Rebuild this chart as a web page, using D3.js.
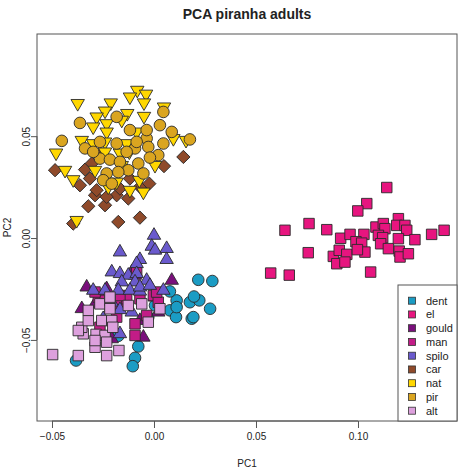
<!DOCTYPE html>
<html>
<head>
<meta charset="utf-8">
<script src="https://cdn.jsdelivr.net/npm/d3@7"></script>
<style>
  html, body { margin: 0; padding: 0; background: #fff; }
  svg { display: block; }
  text { font-family: "Liberation Sans", Arial, sans-serif; fill: #222; }
</style>
</head>
<body>
<script>
// ---------------- data (PC1, PC2) ----------------
const species = ["dent", "el", "gould", "man", "spilo", "car", "nat", "pir", "alt"];
const colors  = ["#1b9cc4", "#e7157f", "#7a0f7c", "#c21c87", "#6a5acd", "#8f4a2a", "#ffd700", "#daa520", "#dda0dd"];
const shapes  = ["circle", "square", "triUp", "square", "triUp", "diamond", "triDown", "circle", "square"];

const dent = [[0.0217,-0.0205],[0.0286,-0.0211],[0.0111,-0.0306],[0.0176,-0.0315],[0.0222,-0.0306],[0.0196,-0.0287],
  [0.0275,-0.0347],[0.0078,-0.0355],[0.0108,-0.0388],[0.0185,-0.0396],[0.0193,-0.0388],[-0.0077,-0.0532],[-0.0093,-0.0588],
  [-0.0104,-0.0629],[-0.0382,-0.0601],[0.0005,-0.0331],[-0.0028,-0.0388],[-0.0175,-0.0480],[0.0111,-0.0339],[0.0078,-0.0262]];
const el = [[0.1141,0.0248],[0.1043,0.0169],[0.0999,0.0133],[0.0642,0.0038],[0.0760,0.0071],[0.0847,0.0041],[0.0756,-0.0072],
  [0.0572,-0.0172],[0.0663,-0.0182],[0.1062,-0.0167],[0.0915,-0.0001],[0.0961,0.0018],[0.1029,0.0018],[0.0990,-0.0018],
  [0.1018,-0.0025],[0.1034,-0.0069],[0.0879,-0.0090],[0.0908,-0.0060],[0.0945,-0.0080],[0.0896,-0.0126],[0.0936,-0.0118],
  [0.0997,-0.0057],[0.1088,0.0054],[0.1124,0.0071],[0.1132,0.0046],[0.1100,0.0013],[0.1121,0.0002],[0.1111,-0.0028],
  [0.1149,-0.0052],[0.1198,0.0095],[0.1190,0.0062],[0.1230,0.0062],[0.1239,0.0038],[0.1198,-0.0003],[0.1202,-0.0064],
  [0.1206,-0.0093],[0.1247,-0.0077],[0.1279,-0.0008],[0.1361,0.0018],[0.1422,0.0038]];
const gould = [[0.0087,-0.0208],[-0.0052,-0.0487],[-0.0207,-0.0495],[-0.0354,-0.0347],[-0.0109,-0.0167],[0.0005,-0.0290],
  [-0.0232,-0.0249],[-0.0289,-0.0323],[-0.0134,-0.0323],[-0.0330,-0.0241],[-0.0069,-0.0405],[0.0021,-0.0364],[-0.0093,-0.0183]];
const man = [[-0.0085,-0.0167],[-0.0273,-0.0290],[-0.0216,-0.0339],[-0.0167,-0.0323],[-0.0134,-0.0298],[-0.0069,-0.0298],
  [-0.0003,-0.0282],[0.0021,-0.0315],[-0.0093,-0.0421],[-0.0093,-0.0478],[-0.0036,-0.0380],[-0.0240,-0.0306],[-0.0289,-0.0265],
  [-0.0167,-0.0282],[-0.0183,-0.0388],[-0.0265,-0.0438],[0.0013,-0.0265]];
const spilo = [[0.0000,0.0013],[-0.0011,-0.0041],[0.0005,-0.0060],[0.0062,-0.0052],[0.0062,-0.0106],[-0.0167,-0.0069],
  [-0.0069,-0.0106],[-0.0085,-0.0126],[-0.0207,-0.0167],[-0.0167,-0.0175],[-0.0126,-0.0183],[-0.0085,-0.0175],[-0.0158,-0.0216],
  [-0.0093,-0.0216],[-0.0036,-0.0208],[-0.0298,-0.0257],[-0.0240,-0.0257],[-0.0175,-0.0257],[-0.0118,-0.0257],[-0.0069,-0.0261],
  [0.0046,-0.0257],[-0.0207,-0.0315],[-0.0167,-0.0352],[-0.0109,-0.0364],[-0.0249,-0.0396],[-0.0167,-0.0470],[-0.0069,-0.0241],
  [-0.0020,-0.0233]];
const car = [[0.0144,0.0398],[0.0049,0.0353],[-0.0485,0.0333],[-0.0338,0.0336],[-0.0363,0.0259],[-0.0314,0.0292],[-0.0289,0.0210],
  [-0.0240,0.0161],[-0.0322,0.0156],[-0.0183,0.0210],[-0.0126,0.0194],[-0.0167,0.0243],[-0.0069,0.0251],[-0.0023,0.0267],
  [-0.0175,0.0079],[-0.0069,0.0100],[-0.0396,0.0071],[-0.0265,0.0407],[-0.0305,0.0366],[-0.0118,0.0292],[-0.0232,0.0202],
  [-0.0281,0.0235]];
const nat = [[-0.0082,0.0726],[-0.0118,0.0693],[-0.0039,0.0707],[-0.0049,0.0664],[-0.0374,0.0661],[-0.0212,0.0664],[-0.0240,0.0624],
  [-0.0281,0.0595],[-0.0131,0.0612],[-0.0049,0.0598],[0.0049,0.0644],[-0.0232,0.0562],[-0.0158,0.0579],[-0.0298,0.0546],
  [-0.0232,0.0521],[-0.0085,0.0521],[-0.0354,0.0480],[-0.0298,0.0464],[-0.0240,0.0472],[-0.0134,0.0464],[-0.0480,0.0418],
  [-0.0167,0.0418],[-0.0121,0.0423],[-0.0240,0.0423],[-0.0436,0.0333],[-0.0396,0.0287],[-0.0289,0.0333],[0.0005,0.0357],
  [-0.0072,0.0284],[-0.0224,0.0251],[-0.0183,0.0275],[-0.0118,0.0235],[-0.0052,0.0226],[0.0095,0.0489],[0.0157,0.0480],
  [-0.0158,0.0357],[-0.0379,0.0087]];
const pir = [[0.0046,0.0619],[-0.0363,0.0565],[-0.0183,0.0595],[-0.0452,0.0477],[0.0029,0.0554],[0.0087,0.0521],[0.0176,0.0484],
  [-0.0118,0.0530],[-0.0036,0.0489],[0.0046,0.0464],[-0.0265,0.0472],[-0.0183,0.0464],[-0.0338,0.0440],[-0.0093,0.0440],
  [-0.0028,0.0447],[0.0021,0.0407],[-0.0265,0.0390],[-0.0216,0.0385],[-0.0167,0.0374],[-0.0126,0.0333],[-0.0077,0.0366],
  [-0.0052,0.0317],[-0.0232,0.0317],[-0.0175,0.0324],[-0.0249,0.0284],[-0.0207,0.0267],[-0.0020,0.0395],[-0.0134,0.0423],
  [-0.0298,0.0423],[-0.0036,0.0530],[-0.0085,0.0472]];
const alt = [[-0.0497,-0.0572],[-0.0371,-0.0577],[-0.0232,-0.0577],[-0.0172,-0.0552],[-0.0289,-0.0536],[-0.0347,-0.0470],
  [-0.0284,-0.0473],[-0.0240,-0.0478],[-0.0354,-0.0438],[-0.0322,-0.0405],[-0.0256,-0.0405],[-0.0207,-0.0405],[-0.0322,-0.0355],
  [-0.0265,-0.0323],[-0.0216,-0.0306],[-0.0216,-0.0347],[-0.0126,-0.0331],[-0.0060,-0.0323],[0.0029,-0.0347],[-0.0028,-0.0413],
  [-0.0202,-0.0438],[-0.0289,-0.0503],[-0.0232,-0.0511],[-0.0371,-0.0454],[-0.0216,-0.0290]];

const seriesData = { dent, el, gould, man, spilo, car, nat, pir, alt };
const drawOrder = ["car", "nat", "pir", "el", "dent", "gould", "man", "spilo", "alt"];

const xTicks = [-0.05, 0.00, 0.05, 0.10];
const yTicks = [-0.05, 0.00, 0.05];
const title = "PCA piranha adults";
const xLabel = "PC1", yLabel = "PC2";

// ---------------- layout ----------------
const W = 459, H = 472;
const plot = { left: 37, right: 457, top: 34, bottom: 421 };

const x = d3.scaleLinear().domain([-0.05735, 0.14853]).range([plot.left, plot.right]);
const y = d3.scaleLinear().domain([-0.0898, 0.10015]).range([plot.bottom, plot.top]);

const svg = d3.select("body").append("svg").attr("width", W).attr("height", H);

// symbols
const symGen = {
  circle:  d3.symbol().type(d3.symbolCircle).size(106),
  square:  d3.symbol().type(d3.symbolSquare).size(110),
  triUp:   d3.symbol().type(d3.symbolTriangle).size(78),
  triDown: d3.symbol().type(d3.symbolTriangle).size(78),
  diamond: d3.symbol().type(d3.symbolSquare).size(88)
};
const rot = { circle: 0, square: 0, triUp: 0, triDown: 180, diamond: 45 };

// points
const gPts = svg.append("g");
drawOrder.forEach(sp => {
  const i = species.indexOf(sp);
  gPts.selectAll(null).data(seriesData[sp]).enter().append("path")
    .attr("d", symGen[shapes[i]]())
    .attr("transform", d => `translate(${x(d[0])},${y(d[1])}) rotate(${rot[shapes[i]]})`)
    .attr("fill", colors[i])
    .attr("stroke", "#2a2a2a")
    .attr("stroke-width", 0.9);
});

// frame
svg.append("rect")
  .attr("x", plot.left).attr("y", plot.top)
  .attr("width", plot.right - plot.left).attr("height", plot.bottom - plot.top)
  .attr("fill", "none").attr("stroke", "#555").attr("stroke-width", 1);

// x axis
const xAxis = svg.append("g").attr("transform", `translate(0,${plot.bottom})`)
  .call(d3.axisBottom(x).tickValues(xTicks).tickFormat(d3.format(".2f")).tickSize(7).tickPadding(5));
xAxis.select(".domain").attr("stroke", "#555").attr("d", `M${x(xTicks[0])},0H${x(xTicks[xTicks.length-1])}`);
xAxis.selectAll(".tick line").attr("stroke", "#555");
xAxis.selectAll(".tick text").attr("font-size", 10).attr("font-family", "Liberation Sans, Arial, sans-serif").attr("fill", "#333");

// y axis
const yAxis = svg.append("g").attr("transform", `translate(${plot.left},0)`)
  .call(d3.axisLeft(y).tickValues(yTicks).tickFormat(d3.format(".2f")).tickSize(6).tickPadding(0));
yAxis.select(".domain").attr("stroke", "#555").attr("d", `M0,${y(yTicks[0])}V${y(yTicks[yTicks.length-1])}`);
yAxis.selectAll(".tick line").attr("stroke", "#555");
yAxis.selectAll(".tick text")
  .attr("font-size", 10).attr("font-family", "Liberation Sans, Arial, sans-serif").attr("fill", "#333")
  .attr("x", null).attr("dy", null)
  .attr("text-anchor", "middle")
  .attr("transform", "translate(-7,0) rotate(-90)");

// title & labels
svg.append("text").attr("x", (plot.left + plot.right) / 2).attr("y", 19)
  .attr("text-anchor", "middle").attr("font-size", 14).attr("font-weight", "bold").attr("fill", "#111").text(title);
svg.append("text").attr("x", (plot.left + plot.right) / 2).attr("y", 467)
  .attr("text-anchor", "middle").attr("font-size", 10).attr("fill", "#333").text(xLabel);
svg.append("text").attr("transform", `translate(11,${(plot.top + plot.bottom) / 2}) rotate(-90)`)
  .attr("text-anchor", "middle").attr("font-size", 10).attr("fill", "#333").text(yLabel);

// legend
const leg = { left: 398, top: 285 };
svg.append("rect").attr("x", leg.left).attr("y", leg.top)
  .attr("width", plot.right - leg.left).attr("height", plot.bottom - leg.top)
  .attr("fill", "#fff").attr("stroke", "#555").attr("stroke-width", 1);
const lg = svg.append("g");
species.forEach((sp, i) => {
  const cy = 300.7 + i * 13.75;
  lg.append("rect").attr("x", 408.5).attr("y", cy - 3.5).attr("width", 7).attr("height", 7)
    .attr("fill", colors[i]).attr("stroke", "#333").attr("stroke-width", 0.8);
  lg.append("text").attr("x", 426).attr("y", cy).attr("dy", "0.35em")
    .attr("font-size", 11).attr("fill", "#222").text(sp);
});
</script>
</body>
</html>
